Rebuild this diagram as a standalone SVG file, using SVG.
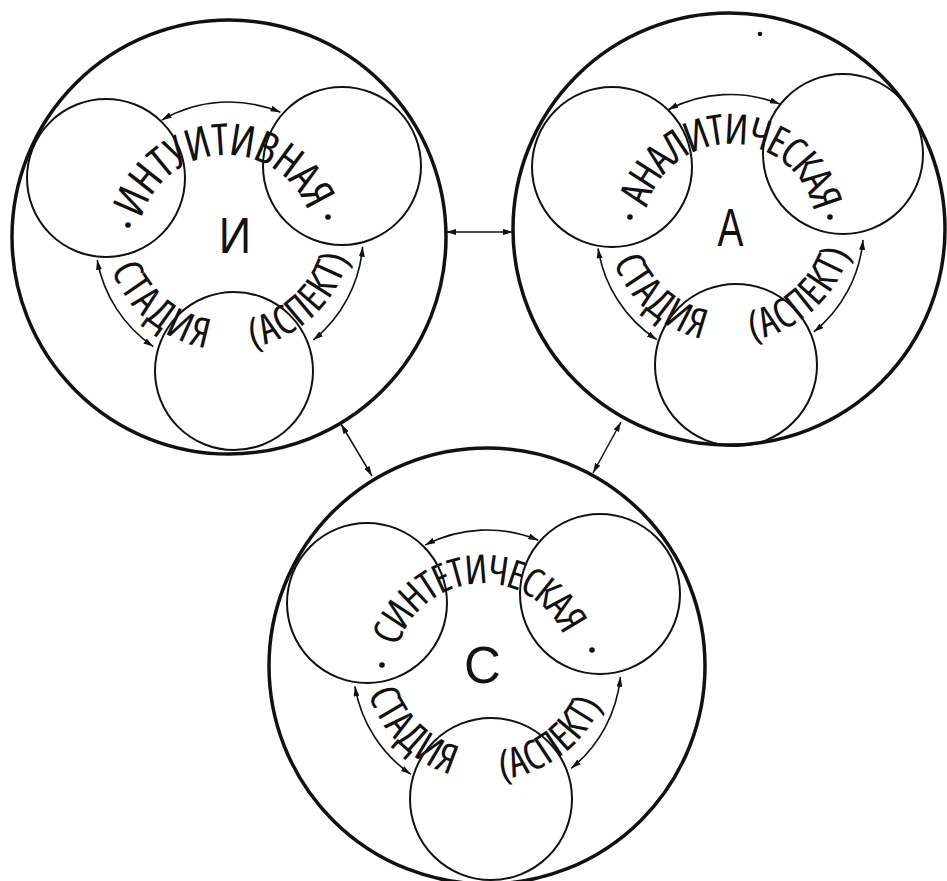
<svg xmlns="http://www.w3.org/2000/svg" width="947" height="881" viewBox="0 0 947 881">
<defs>
<style>
.big{fill:none;stroke:#111;stroke-width:3.5}
.small{fill:none;stroke:#111;stroke-width:2}
.arc{fill:none;stroke:#111;stroke-width:1.6;marker-start:url(#ah);marker-end:url(#ah)}
.link{fill:none;stroke:#111;stroke-width:1.5;marker-start:url(#ah);marker-end:url(#ah)}
.t{font-family:"Liberation Sans",Arial,sans-serif;fill:#111}
.ct{font-family:"Open Sans","Liberation Sans",sans-serif;font-stretch:75%;fill:#111;text-anchor:middle}
.dot{fill:#111}
</style>
<marker id="ah" viewBox="0 0 10 6" refX="10" refY="3" markerWidth="10" markerHeight="6" markerUnits="userSpaceOnUse" orient="auto-start-reverse"><path d="M0,0 L10,3 L0,6 z" fill="#111"/></marker>
<path id="p1t" d="M142.0,216.7 A88,88 0 0 1 306.7,207.9"/>
<path id="p1b1" d="M110.7,268.2 A125,125 0 0 0 210.4,348.8"/>
<path id="p1b2" d="M240.9,349.3 A125,125 0 0 0 349.7,253.8"/>
<path id="p2t" d="M646.7,208.6 A86,86 0 0 1 813.8,210.8"/>
<path id="p2b1" d="M613.0,261.0 A125,125 0 0 0 704.4,339.4"/>
<path id="p2b2" d="M740.5,341.6 A125,125 0 0 0 850.8,249.1"/>
<path id="p3t" d="M396.9,651.3 A88.5,88.5 0 0 1 564.6,637.8"/>
<path id="p3b1" d="M367.7,692.2 A125,125 0 0 0 453.2,775.3"/>
<path id="p3b2" d="M490.7,780.0 A125,125 0 0 0 603.0,701.5"/>
</defs>
<rect width="947" height="881" fill="#fff"/>

<g id="node-intuitive">
<circle class="big" cx="229" cy="237" r="217"/>
<g id="node-intuitive-1"><circle class="small" cx="106" cy="178" r="79"/></g>
<g id="node-intuitive-2"><circle class="small" cx="342" cy="166" r="79"/></g>
<g id="node-intuitive-3"><circle class="small" cx="234" cy="371" r="79"/></g>
<text class="ct" font-size="44" letter-spacing="-1.2"><textPath href="#p1t" startOffset="50%">ИНТУИТИВНАЯ</textPath></text>
<text class="ct" font-size="41"><textPath href="#p1b1" startOffset="50%" letter-spacing="3">СТАДИЯ</textPath><textPath href="#p1b2" startOffset="50%" letter-spacing="1.2"> (АСПЕКТ)</textPath></text>
<circle class="dot" cx="128" cy="225" r="2.8"/>
<circle class="dot" cx="328" cy="217" r="2.8"/>
<text class="t" font-size="50" text-anchor="middle" transform="translate(235,253) scale(0.9,1)">И</text>
</g>

<g id="node-analytic">
<circle class="big" cx="729" cy="229" r="216"/>
<g id="node-analytic-1"><circle class="small" cx="612" cy="167" r="80"/></g>
<g id="node-analytic-2"><circle class="small" cx="843" cy="154" r="80"/></g>
<g id="node-analytic-3"><circle class="small" cx="736" cy="365" r="81"/></g>
<text class="ct" font-size="42" letter-spacing="-2.2"><textPath href="#p2t" startOffset="50%">АНАЛИТИЧЕСКАЯ</textPath></text>
<text class="ct" font-size="41"><textPath href="#p2b1" startOffset="50%" letter-spacing="1.6">СТАДИЯ</textPath><textPath href="#p2b2" startOffset="50%" letter-spacing="1.1"> (АСПЕКТ)</textPath></text>
<circle class="dot" cx="630" cy="217" r="2.8"/>
<circle class="dot" cx="830" cy="217" r="2.8"/>
<text class="t" font-size="54" text-anchor="middle" transform="translate(730.5,246) scale(0.72,1)">А</text>
<circle class="dot" cx="760" cy="34" r="2.3"/>
</g>

<g id="node-synthetic">
<circle class="big" cx="487" cy="666" r="218"/>
<g id="node-synthetic-1"><circle class="small" cx="367" cy="603" r="80"/></g>
<g id="node-synthetic-2"><circle class="small" cx="600" cy="594" r="80"/></g>
<g id="node-synthetic-3"><circle class="small" cx="491" cy="799" r="81"/></g>
<text class="ct" font-size="40" letter-spacing="-1.9"><textPath href="#p3t" startOffset="50%">СИНТЕТИЧЕСКАЯ</textPath></text>
<text class="ct" font-size="41"><textPath href="#p3b1" startOffset="50%" letter-spacing="1.3">СТАДИЯ</textPath><textPath href="#p3b2" startOffset="50%" letter-spacing="0.1"> (АСПЕКТ)</textPath></text>
<circle class="dot" cx="382" cy="665" r="2.8"/>
<circle class="dot" cx="592" cy="650" r="2.8"/>
<text class="t" font-size="51" text-anchor="middle" transform="translate(482.5,683)">С</text>
</g>

<g id="connectors">
<path class="link" d="M446,232 L513,232"/>
<path class="link" d="M341,424 L372,476"/>
<path class="link" d="M621,422 L593,473"/>
<path class="arc" d="M161.8,120.1 A134,134 0 0 1 280.5,112.3"/>
<path class="arc" d="M362.6,246.7 A134,134 0 0 1 313.3,340.1"/>
<path class="arc" d="M153.3,346.6 A134,134 0 0 1 97.2,260.0"/>
<path class="arc" d="M668.1,109.7 A133.5,133.5 0 0 1 779.8,104.1"/>
<path class="arc" d="M863.0,239.9 A133.5,133.5 0 0 1 813.7,332.0"/>
<path class="arc" d="M656.9,339.7 A133.5,133.5 0 0 1 598.1,248.4"/>
<path class="arc" d="M425.1,545.1 A134,134 0 0 1 538.3,540.2"/>
<path class="arc" d="M620.4,676.8 A134,134 0 0 1 571.2,768.3"/>
<path class="arc" d="M410.9,774.3 A134,134 0 0 1 354.9,686.4"/>
</g>
</svg>
